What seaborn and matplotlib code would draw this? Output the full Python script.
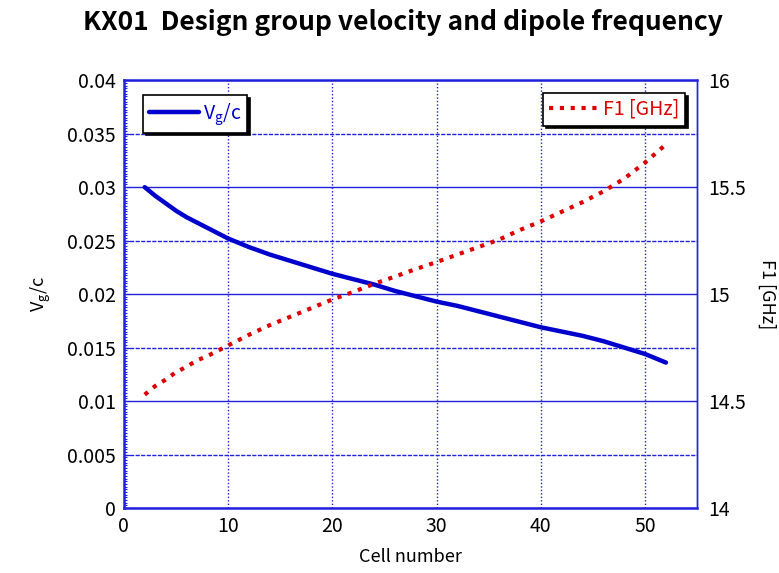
import numpy as np
import pandas as pd
import matplotlib
matplotlib.use("Agg")
import matplotlib.pyplot as plt
from matplotlib.ticker import MultipleLocator, FixedLocator, FixedFormatter
import seaborn as sns

# ---- data ----
cells = [2, 3, 4, 5, 6, 7, 8, 9, 10, 12, 14, 16, 18, 20, 22, 24, 26, 28, 30, 32, 34, 36, 38,
         40, 42, 44, 46, 48, 50, 52]
vg_c = [0.0300, 0.0292, 0.0285, 0.0278, 0.0272, 0.0267, 0.0262, 0.0257, 0.0252, 0.0244,
        0.0237, 0.0231, 0.0225, 0.0219, 0.0214, 0.0209, 0.0203, 0.0198, 0.0193, 0.0189,
        0.0184, 0.0179, 0.0174, 0.0169, 0.0165, 0.0161, 0.0156, 0.0150, 0.0144, 0.0136]
f1_ghz = [14.53, 14.57, 14.60, 14.635, 14.66, 14.69, 14.71, 14.735, 14.76, 14.81,
          14.855, 14.895, 14.935, 14.975, 15.01, 15.048, 15.082, 15.117, 15.15, 15.185,
          15.22, 15.255, 15.30, 15.34, 15.385, 15.43, 15.48, 15.54, 15.615, 15.70]

x_ticks = [0, 10, 20, 30, 40, 50]
y_ticks = [0, 0.005, 0.01, 0.015, 0.02, 0.025, 0.03, 0.035, 0.04]
y_labels = ["0", "0.005", "0.01", "0.015", "0.02", "0.025", "0.03", "0.035", "0.04"]
y2_ticks = [14, 14.5, 15, 15.5, 16]
y2_labels = ["14", "14.5", "15", "15.5", "16"]

title = "KX01  Design group velocity and dipole frequency"

df = pd.DataFrame({"cell": cells, "vg": vg_c, "f1": f1_ghz})

sns.set_style("white")
plt.rcParams["font.family"] = ["Noto Sans CJK JP", "DejaVu Sans"]
plt.rcParams["text.color"] = "black"
plt.rcParams["axes.labelcolor"] = "black"
plt.rcParams["mathtext.fontset"] = "custom"
plt.rcParams["mathtext.rm"] = "Noto Sans CJK JP"
plt.rcParams["mathtext.it"] = "Noto Sans CJK JP"

BLUE = "#0000CC"
GRID = "#2222DD"
RED = "#DD0000"

fig = plt.figure(figsize=(7.79, 5.73), dpi=100)
ax = fig.add_axes([0.159, 0.1134, 0.736, 0.7466])
ax2 = ax.twinx()

sns.lineplot(data=df, x="cell", y="vg", ax=ax, color=BLUE, linewidth=3.2,
             label="V$_\\mathrm{g}$/c", legend=False, zorder=5)
sns.lineplot(data=df, x="cell", y="f1", ax=ax2, color=RED, linewidth=3.0,
             label="F1 [GHz]", legend=False, zorder=5)
ax2.get_lines()[0].set_linestyle((0, (1, 1.6)))

ax.set_xlim(0, 55)
ax.set_ylim(0, 0.04)
ax2.set_ylim(14, 16)

ax.xaxis.set_major_locator(FixedLocator(x_ticks))
ax.yaxis.set_major_locator(FixedLocator(y_ticks))
ax.yaxis.set_major_formatter(FixedFormatter(y_labels))
ax2.yaxis.set_major_locator(FixedLocator(y2_ticks))
ax2.yaxis.set_major_formatter(FixedFormatter(y2_labels))
ax.yaxis.set_minor_locator(MultipleLocator(0.00025))
ax.xaxis.set_minor_locator(MultipleLocator(0.25))

ax.tick_params(axis="both", which="major", direction="in", length=4, color=GRID,
               labelsize=14, labelcolor="black", pad=6)
ax.tick_params(axis="both", which="minor", direction="in", length=2, color=GRID, width=0.8)
ax2.tick_params(axis="y", which="major", direction="in", length=0, labelsize=14,
                labelcolor="black", pad=8)

# grid
ax.grid(True, which="major", axis="y", color=GRID, linewidth=1.0, linestyle=(0, (3, 1)))
ax.grid(True, which="major", axis="x", color=GRID, linewidth=1.0, linestyle=(0, (1, 1.5)))
for i, gl in enumerate(ax.get_ygridlines()):
    if i % 2 == 0:
        gl.set_linestyle("-")
ax.set_axisbelow(True)
ax2.grid(False)

for s in ["left", "bottom"]:
    ax.spines[s].set_color(GRID)
    ax.spines[s].set_linewidth(1.8)
ax.spines["top"].set_color(GRID)
ax.spines["top"].set_linewidth(1.8)
ax.spines["top"].set_linestyle((0, (3, 1)))
ax.spines["right"].set_color(GRID)
ax.spines["right"].set_linewidth(1.0)
for s in ["left", "bottom", "top"]:
    ax2.spines[s].set_visible(False)
ax2.spines["right"].set_color(GRID)
ax2.spines["right"].set_linewidth(1.0)

ax.set_xlabel("Cell number", fontsize=13, labelpad=8)
ax.set_ylabel("V$_\\mathrm{g}$/c", fontsize=13, labelpad=10)
ax2.set_ylabel("F1 [GHz]", fontsize=13, rotation=270, labelpad=22)

fig.suptitle(title, fontsize=19, fontweight="bold", y=0.985, x=0.517)

shadow = {"color": "black", "alpha": 1.0}
leg1 = ax.legend(loc="upper left", bbox_to_anchor=(0.033, 0.965), fontsize=14,
                 frameon=True, fancybox=False, shadow=shadow, handlelength=2.6,
                 borderpad=0.3, handletextpad=0.2, borderaxespad=0)
leg1.get_frame().set_edgecolor("black")
leg1.get_frame().set_linewidth(1.2)
for t in leg1.get_texts():
    t.set_color(BLUE)

leg2 = ax2.legend(loc="upper right", bbox_to_anchor=(0.979, 0.97), fontsize=14,
                  frameon=True, fancybox=False, shadow=shadow, handlelength=2.6,
                  borderpad=0.3, handletextpad=0.2, borderaxespad=0)
leg2.get_frame().set_edgecolor("black")
leg2.get_frame().set_linewidth(1.2)
for t in leg2.get_texts():
    t.set_color(RED)

fig.savefig("out.png", dpi=100)
